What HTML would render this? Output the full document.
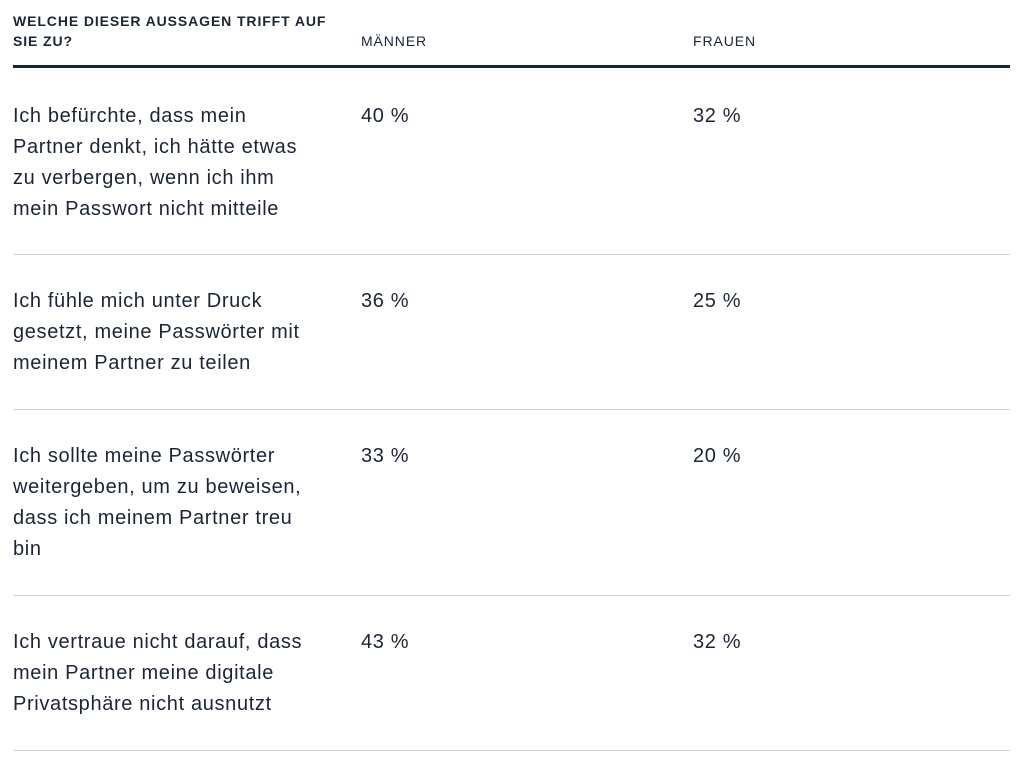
<!DOCTYPE html>
<html><head><meta charset="utf-8"><style>
body{margin:0;width:1024px;height:766px;background:#fff;position:relative;font-family:"Liberation Sans",sans-serif;color:#1b2536;overflow:hidden}
.a{position:absolute;white-space:nowrap}
.h{font-size:14px;font-weight:bold;line-height:20px;letter-spacing:0.9px}
.c{font-size:14px;line-height:20px;letter-spacing:0.9px}
.t{font-size:20px;line-height:31px;letter-spacing:0.65px}
.ln{position:absolute;left:13px;width:997px;height:1px;background:#cfd2d6}
</style></head><body>
<div class="a h" style="left:13px;top:11px">WELCHE DIESER AUSSAGEN TRIFFT AUF<br>SIE ZU?</div>
<div class="a c" style="left:361px;top:31px">MÄNNER</div>
<div class="a c" style="left:693px;top:31px">FRAUEN</div>
<div style="position:absolute;left:13px;top:65px;width:997px;height:3px;background:#1b2536"></div>

<div class="a t" style="left:13px;top:101px">Ich befürchte, dass mein<br>Partner denkt, ich hätte etwas<br>zu verbergen, wenn ich ihm<br>mein Passwort nicht mitteile</div>
<div class="a t" style="left:361px;top:101px">40 %</div>
<div class="a t" style="left:693px;top:101px">32 %</div>
<div class="ln" style="top:254px"></div>

<div class="a t" style="left:13px;top:286px">Ich fühle mich unter Druck<br>gesetzt, meine Passwörter mit<br>meinem Partner zu teilen</div>
<div class="a t" style="left:361px;top:286px">36 %</div>
<div class="a t" style="left:693px;top:286px">25 %</div>
<div class="ln" style="top:409px"></div>

<div class="a t" style="left:13px;top:441px">Ich sollte meine Passwörter<br>weitergeben, um zu beweisen,<br>dass ich meinem Partner treu<br>bin</div>
<div class="a t" style="left:361px;top:441px">33 %</div>
<div class="a t" style="left:693px;top:441px">20 %</div>
<div class="ln" style="top:595px"></div>

<div class="a t" style="left:13px;top:627px">Ich vertraue nicht darauf, dass<br>mein Partner meine digitale<br>Privatsphäre nicht ausnutzt</div>
<div class="a t" style="left:361px;top:627px">43 %</div>
<div class="a t" style="left:693px;top:627px">32 %</div>
<div class="ln" style="top:750px"></div>
</body></html>
